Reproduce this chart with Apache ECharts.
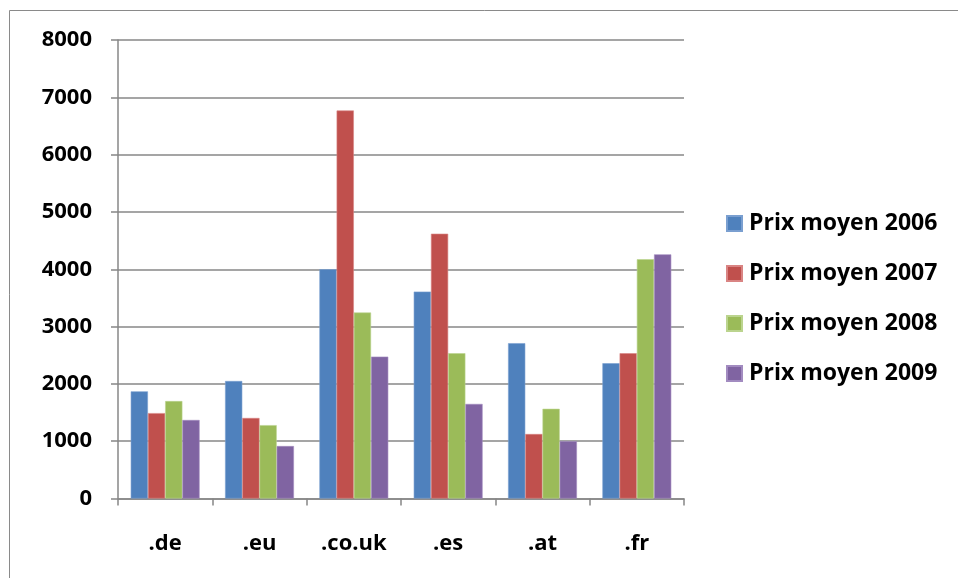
<!DOCTYPE html>
<html>
<head>
<meta charset="utf-8">
<title>Prix moyen par extension</title>
<script src="https://cdn.jsdelivr.net/npm/echarts@6/dist/echarts.min.js"></script>
<style>
  html, body { margin: 0; padding: 0; background: #ffffff; }
  #chart { width: 958px; height: 578px; }
</style>
</head>
<body>
<div id="chart"></div>
<script>
// Domain extensions on the category axis
const categories = ['.de', '.eu', '.co.uk', '.es', '.at', '.fr'];

// Average price per year
const prix2006 = [1870, 2050, 4000, 3610, 2710, 2360];
const prix2007 = [1490, 1405, 6770, 4620, 1125, 2535];
const prix2008 = [1700, 1280, 3245, 2535, 1565, 4175];
const prix2009 = [1370, 915, 2475, 1650, 1000, 4260];

const seriesNames = ['Prix moyen 2006', 'Prix moyen 2007', 'Prix moyen 2008', 'Prix moyen 2009'];
const seriesValues = [prix2006, prix2007, prix2008, prix2009];
const colors = ['#4F81BD', '#C0504D', '#9BBB59', '#8064A2'];
const edgeColors = ['#7A9FD0', '#D98483', '#BBD48E', '#A28BC0'];

const FONT = '"Open Sans", "Liberation Sans", sans-serif';
const FONT_SIZE = 22;
const GRID_GREY = '#878787';

const chart = echarts.init(document.getElementById('chart'), null, { renderer: 'canvas' });

chart.setOption({
  backgroundColor: '#ffffff',
  animation: false,
  color: colors,
  graphic: [{
    type: 'rect',
    silent: true,
    shape: { x: 9.5, y: 10.5, width: 1000, height: 1000 },
    style: { fill: 'none', stroke: '#8a8a8a', lineWidth: 1 },
    z: -1
  }],
  grid: { left: 118, right: 274, top: 40, bottom: 79.5, containLabel: false },
  legend: {
    orient: 'vertical',
    left: 726,
    top: 212,
    padding: 0,
    itemWidth: 15,
    itemHeight: 15,
    itemGap: 27,
    icon: 'rect',
    data: seriesNames,
    textStyle: {
      fontFamily: FONT,
      fontWeight: 'bold',
      fontSize: 23,
      color: '#000000',
      padding: [0, 0, 0, 2]
    }
  },
  xAxis: {
    type: 'category',
    data: categories,
    axisLine: { lineStyle: { color: GRID_GREY, width: 1.5 } },
    axisTick: { show: true, length: 7, lineStyle: { color: GRID_GREY, width: 1.5 } },
    axisLabel: {
      margin: 34,
      fontFamily: FONT,
      fontWeight: 'bold',
      fontSize: FONT_SIZE,
      color: '#000000'
    },
    splitLine: { show: false }
  },
  yAxis: {
    type: 'value',
    min: 0,
    max: 8000,
    interval: 1000,
    axisLine: { show: true, lineStyle: { color: GRID_GREY, width: 1.5 } },
    axisTick: { show: true, length: 7, lineStyle: { color: GRID_GREY, width: 1.5 } },
    axisLabel: {
      margin: 26,
      fontFamily: FONT,
      fontWeight: 'bold',
      fontSize: FONT_SIZE,
      color: '#000000',
      formatter: (v) => String(v)
    },
    splitLine: { show: true, lineStyle: { color: GRID_GREY, width: 1.5 } }
  },
  series: seriesNames.map((name, i) => ({
    name: name,
    type: 'bar',
    data: seriesValues[i],
    barGap: '0%',
    barCategoryGap: '27%',
    itemStyle: { color: colors[i], borderColor: edgeColors[i], borderWidth: 0.6 }
  }))
});
</script>
</body>
</html>
